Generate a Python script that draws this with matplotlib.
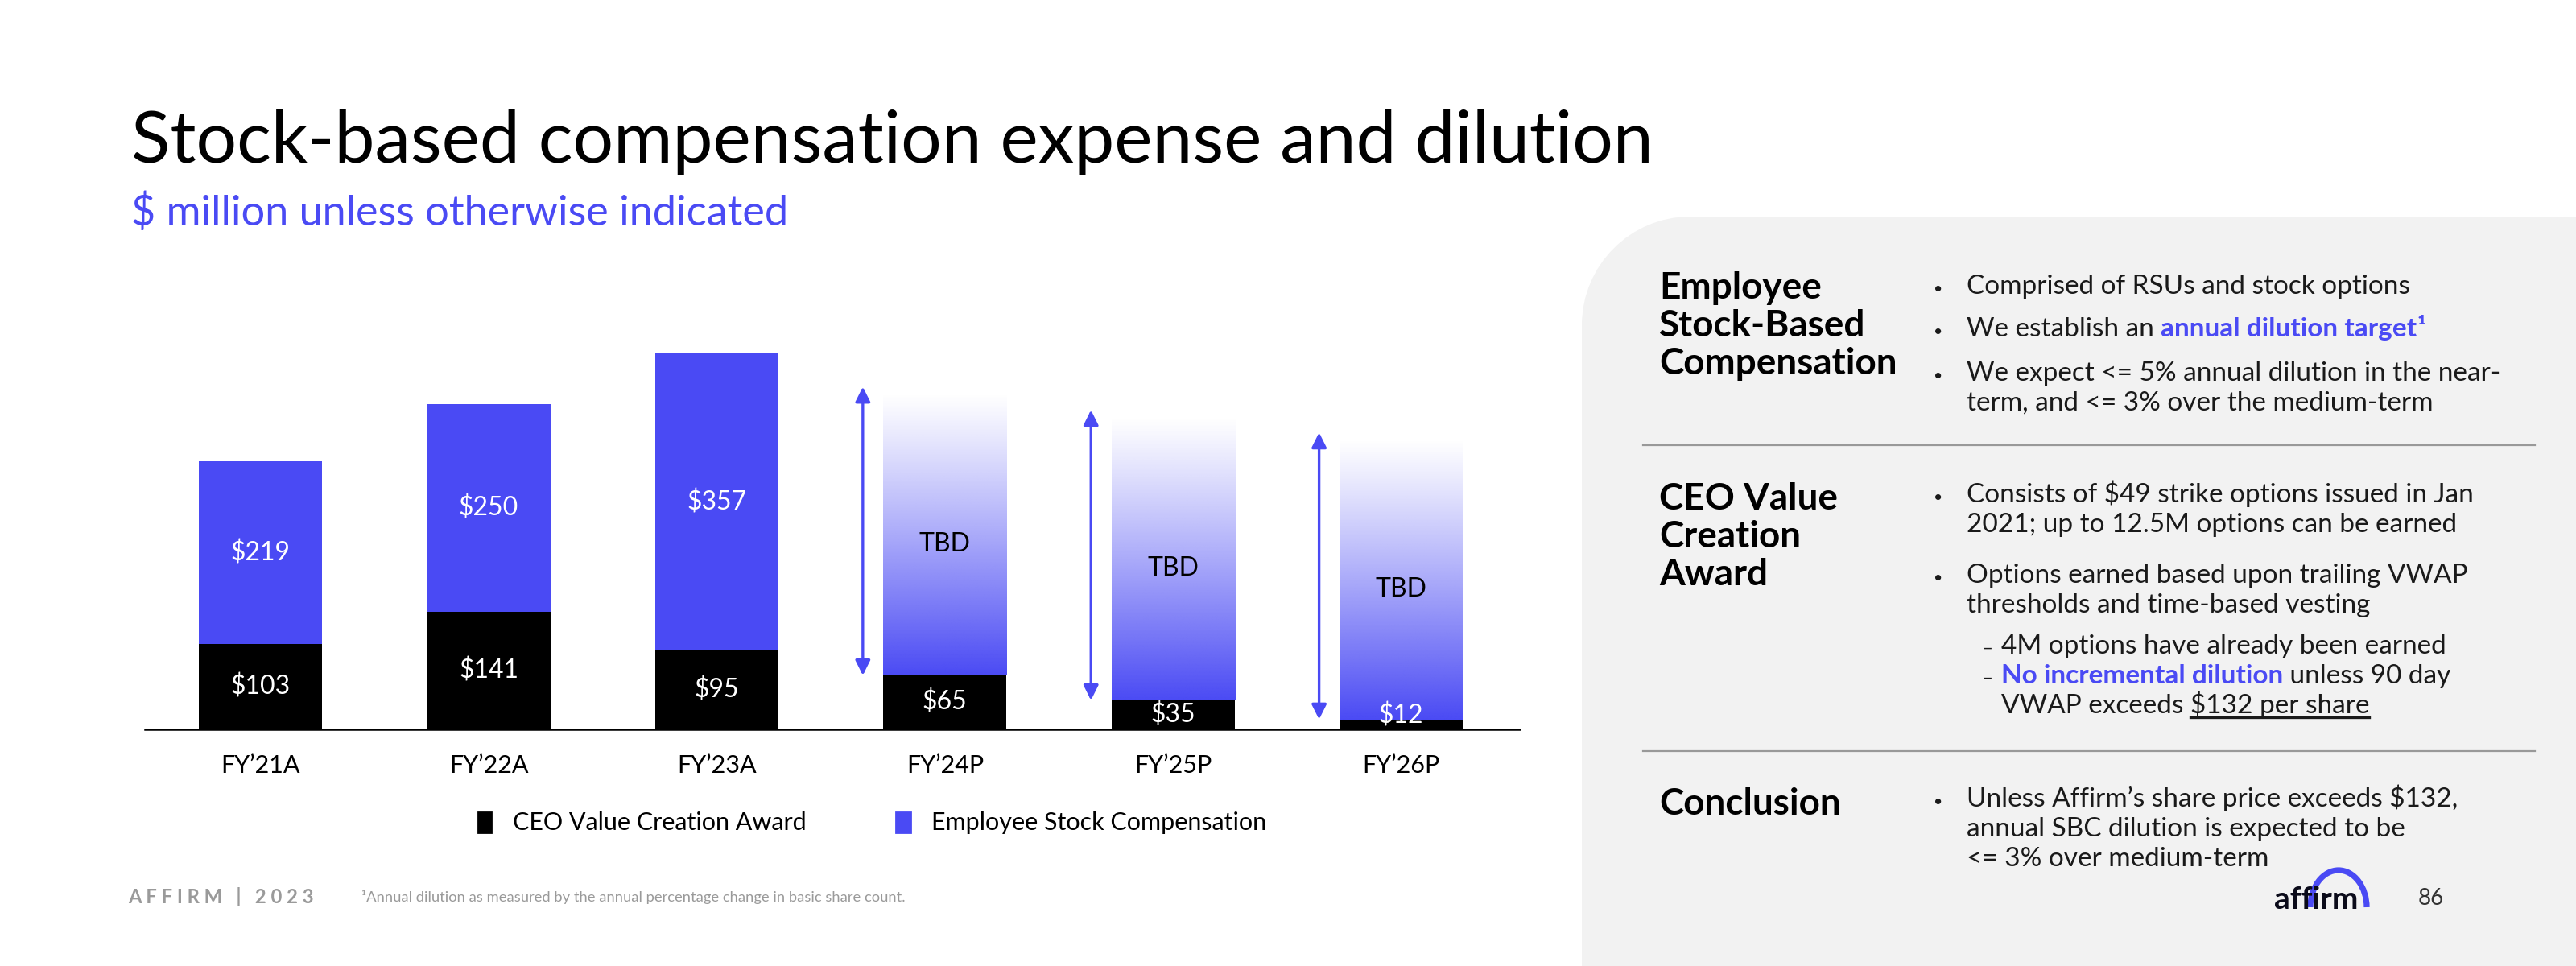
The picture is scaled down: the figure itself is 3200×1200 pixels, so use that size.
import numpy as np
import matplotlib
matplotlib.use("Agg")
import matplotlib.pyplot as plt
from matplotlib.patches import PathPatch, Arc
from matplotlib.path import Path

plt.rcParams['font.family'] = ['Lato', 'DejaVu Sans']

BLUE = '#4A4AF4'
DARK = '#1A1A1A'
GRAY = '#9A9A9A'

# chart data ($ million)
categories = ['FY’21A', 'FY’22A', 'FY’23A', 'FY’24P', 'FY’25P', 'FY’26P']
ceo_award = [103, 141, 95, 65, 35, 12]
employee_sbc = [219, 250, 357, None, None, None]
# projected years: employee SBC shown only as a faded "TBD" bar, top
tbd_top = [None, None, None, 404, 376, 349]

legend_labels = ['CEO Value Creation Award', 'Employee Stock Compensation']

fig = plt.figure(figsize=(16, 6), dpi=200)

# full-figure overlay in pixel coords (y down) for slide decoration and text
ov = fig.add_axes([0, 0, 1, 1], zorder=0)
ov.set_xlim(0, 3200)
ov.set_ylim(1200, 0)
ov.axis('off')

# grey side panel with rounded top-left corner
px0, py0, r = 1965, 269, 135
k = 0.552
verts = [(px0, 1200), (px0, py0 + r),
         (px0, py0 + r * (1 - k)), (px0 + r * (1 - k), py0), (px0 + r, py0),
         (3200, py0), (3200, 1200), (px0, 1200)]
codes = [Path.MOVETO, Path.LINETO, Path.CURVE4, Path.CURVE4, Path.CURVE4,
         Path.LINETO, Path.LINETO, Path.CLOSEPOLY]
ov.add_patch(PathPatch(Path(verts, codes), facecolor='#F2F2F2', edgecolor='none'))

# titles
ov.text(163, 202, 'Stock-based compensation expense and dilution', fontsize=32.2,
        color='black', va='baseline')
ov.text(163, 280, '$ million unless otherwise indicated', fontsize=18.8,
        color=BLUE, va='baseline')

# ---- bar chart ----
ax = fig.add_axes([180 / 3200, 0.245, (1888 - 180) / 3200, 495.7 / 1200], zorder=1)
ax.patch.set_alpha(0)
x = np.arange(len(categories))
w = 0.54

for i in range(len(categories)):
    ax.bar(x[i], ceo_award[i], width=w, color='black', zorder=3)
    if employee_sbc[i] is not None:
        ax.bar(x[i], employee_sbc[i], width=w, bottom=ceo_award[i], color=BLUE, zorder=3)
        ax.text(x[i], ceo_award[i] + employee_sbc[i] / 2, f'${employee_sbc[i]}',
                ha='center', va='center', color='white', fontsize=11.5, zorder=4)
    else:
        grad = np.zeros((256, 1, 4))
        grad[:, 0, :3] = matplotlib.colors.to_rgb(BLUE)
        grad[:, 0, 3] = np.linspace(1.0, 0.0, 256) ** 1.1
        ax.imshow(grad, extent=[x[i] - w / 2, x[i] + w / 2, ceo_award[i], tbd_top[i]],
                  origin='lower', aspect='auto', zorder=2, interpolation='bilinear')
        ax.text(x[i], (ceo_award[i] + tbd_top[i]) / 2 - 12, 'TBD', ha='center',
                va='center', color='black', fontsize=11.5, zorder=4)
        ax.annotate('', xy=(x[i] - 0.36, tbd_top[i] + 8), xytext=(x[i] - 0.36, ceo_award[i]),
                    arrowprops=dict(arrowstyle='<|-|>', color=BLUE, lw=1.2,
                                    mutation_scale=14, shrinkA=0, shrinkB=0), zorder=4)
    ax.text(x[i], max(ceo_award[i] / 2, 16), f'${ceo_award[i]}', ha='center',
            va='center', color='white', fontsize=11.5, zorder=4)

ax.set_xlim(-0.507, 5.52)
ax.set_ylim(0, 480)
ax.set_xticks(x)
ax.set_xticklabels(categories, fontsize=11)
ax.tick_params(axis='x', length=0, pad=11)
ax.set_yticks([])
for s in ['top', 'right', 'left']:
    ax.spines[s].set_visible(False)
ax.spines['bottom'].set_linewidth(0.9)

# legend
ov.add_patch(plt.Rectangle((594, 1009), 16, 25, color='black'))
ov.text(637, 1031, legend_labels[0], fontsize=11, va='baseline')
ov.add_patch(plt.Rectangle((1113, 1009), 18, 25, color=BLUE))
ov.text(1157, 1031, legend_labels[1], fontsize=11, va='baseline')

# footer
ov.text(159, 1122, 'A F F I R M   |   2 0 2 3', fontsize=8.6, color=GRAY,
        fontweight='bold', va='baseline')
ov.text(449, 1120, '¹Annual dilution as measured by the annual percentage change in basic share count.',
        fontsize=6.6, color=GRAY, va='baseline')

# ---- right panel text ----
renderer = fig.canvas.get_renderer()


def rich(xp, yp, parts, size=12):
    for txt, style in parts:
        kw = dict(fontsize=size, color=DARK, va='baseline')
        kw.update({k2: v for k2, v in style.items() if k2 != 'underline'})
        t = ov.text(xp, yp, txt, **kw)
        bb = t.get_window_extent(renderer)
        if style.get('underline'):
            ov.plot([bb.x0, bb.x1], [yp + 5, yp + 5], color=DARK, lw=1.2)
        xp = bb.x1


headers = [(['Employee', 'Stock-Based', 'Compensation'], 371),
           (['CEO Value', 'Creation', 'Award'], 633),
           (['Conclusion'], 1012)]
for lines, y0 in headers:
    for j, s in enumerate(lines):
        ov.text(2061, y0 + j * 47, s, fontsize=16.5, fontweight='bold', color='black',
                va='baseline')

plain = {}
hl = {'color': BLUE, 'fontweight': 'bold'}
bullets = [
    (365, [[('Comprised of RSUs and stock options', plain)]]),
    (418, [[('We establish an ', plain), ('annual dilution target', hl), ('¹', hl)]]),
    (473, [[('We expect <= 5% annual dilution in the near-', plain)],
           [('term, and <= 3% over the medium-term', plain)]]),
    (624, [[('Consists of $49 strike options issued in Jan', plain)],
           [('2021; up to 12.5M options can be earned', plain)]]),
    (724, [[('Options earned based upon trailing VWAP', plain)],
           [('thresholds and time-based vesting', plain)]]),
    (1002, [[('Unless Affirm’s share price exceeds $132,', plain)],
            [('annual SBC dilution is expected to be', plain)],
            [('<= 3% over medium-term', plain)]]),
]
for y0, lines in bullets:
    ov.text(2402, y0, '•', fontsize=7, color=DARK, va='baseline')
    for j, parts in enumerate(lines):
        rich(2443, y0 + j * 37, parts)

subs = [(812, [[('4M options have already been earned', plain)]]),
        (849, [[('No incremental dilution', hl), (' unless 90 day', plain)],
               [('VWAP exceeds ', plain), ('$132 per share', {'underline': True})]])]
for y0, lines in subs:
    ov.text(2463, y0, '–', fontsize=8, color=DARK, va='baseline')
    for j, parts in enumerate(lines):
        rich(2486, y0 + j * 37, parts)

for ys in [553, 933]:
    ov.plot([2041, 3149], [ys, ys], color='#999999', lw=0.8)

# logo and page number
ov.text(2825, 1129, 'affirm', fontsize=14, fontweight='bold', color='#0B0B1A', va='baseline')
ov.add_patch(Arc((2905, 1127), 70, 92, theta1=180, theta2=360, color=BLUE, lw=2.6))
ov.text(3004, 1124, '86', fontsize=10, color='#333333', va='baseline')

fig.savefig('out.png', dpi=200)
